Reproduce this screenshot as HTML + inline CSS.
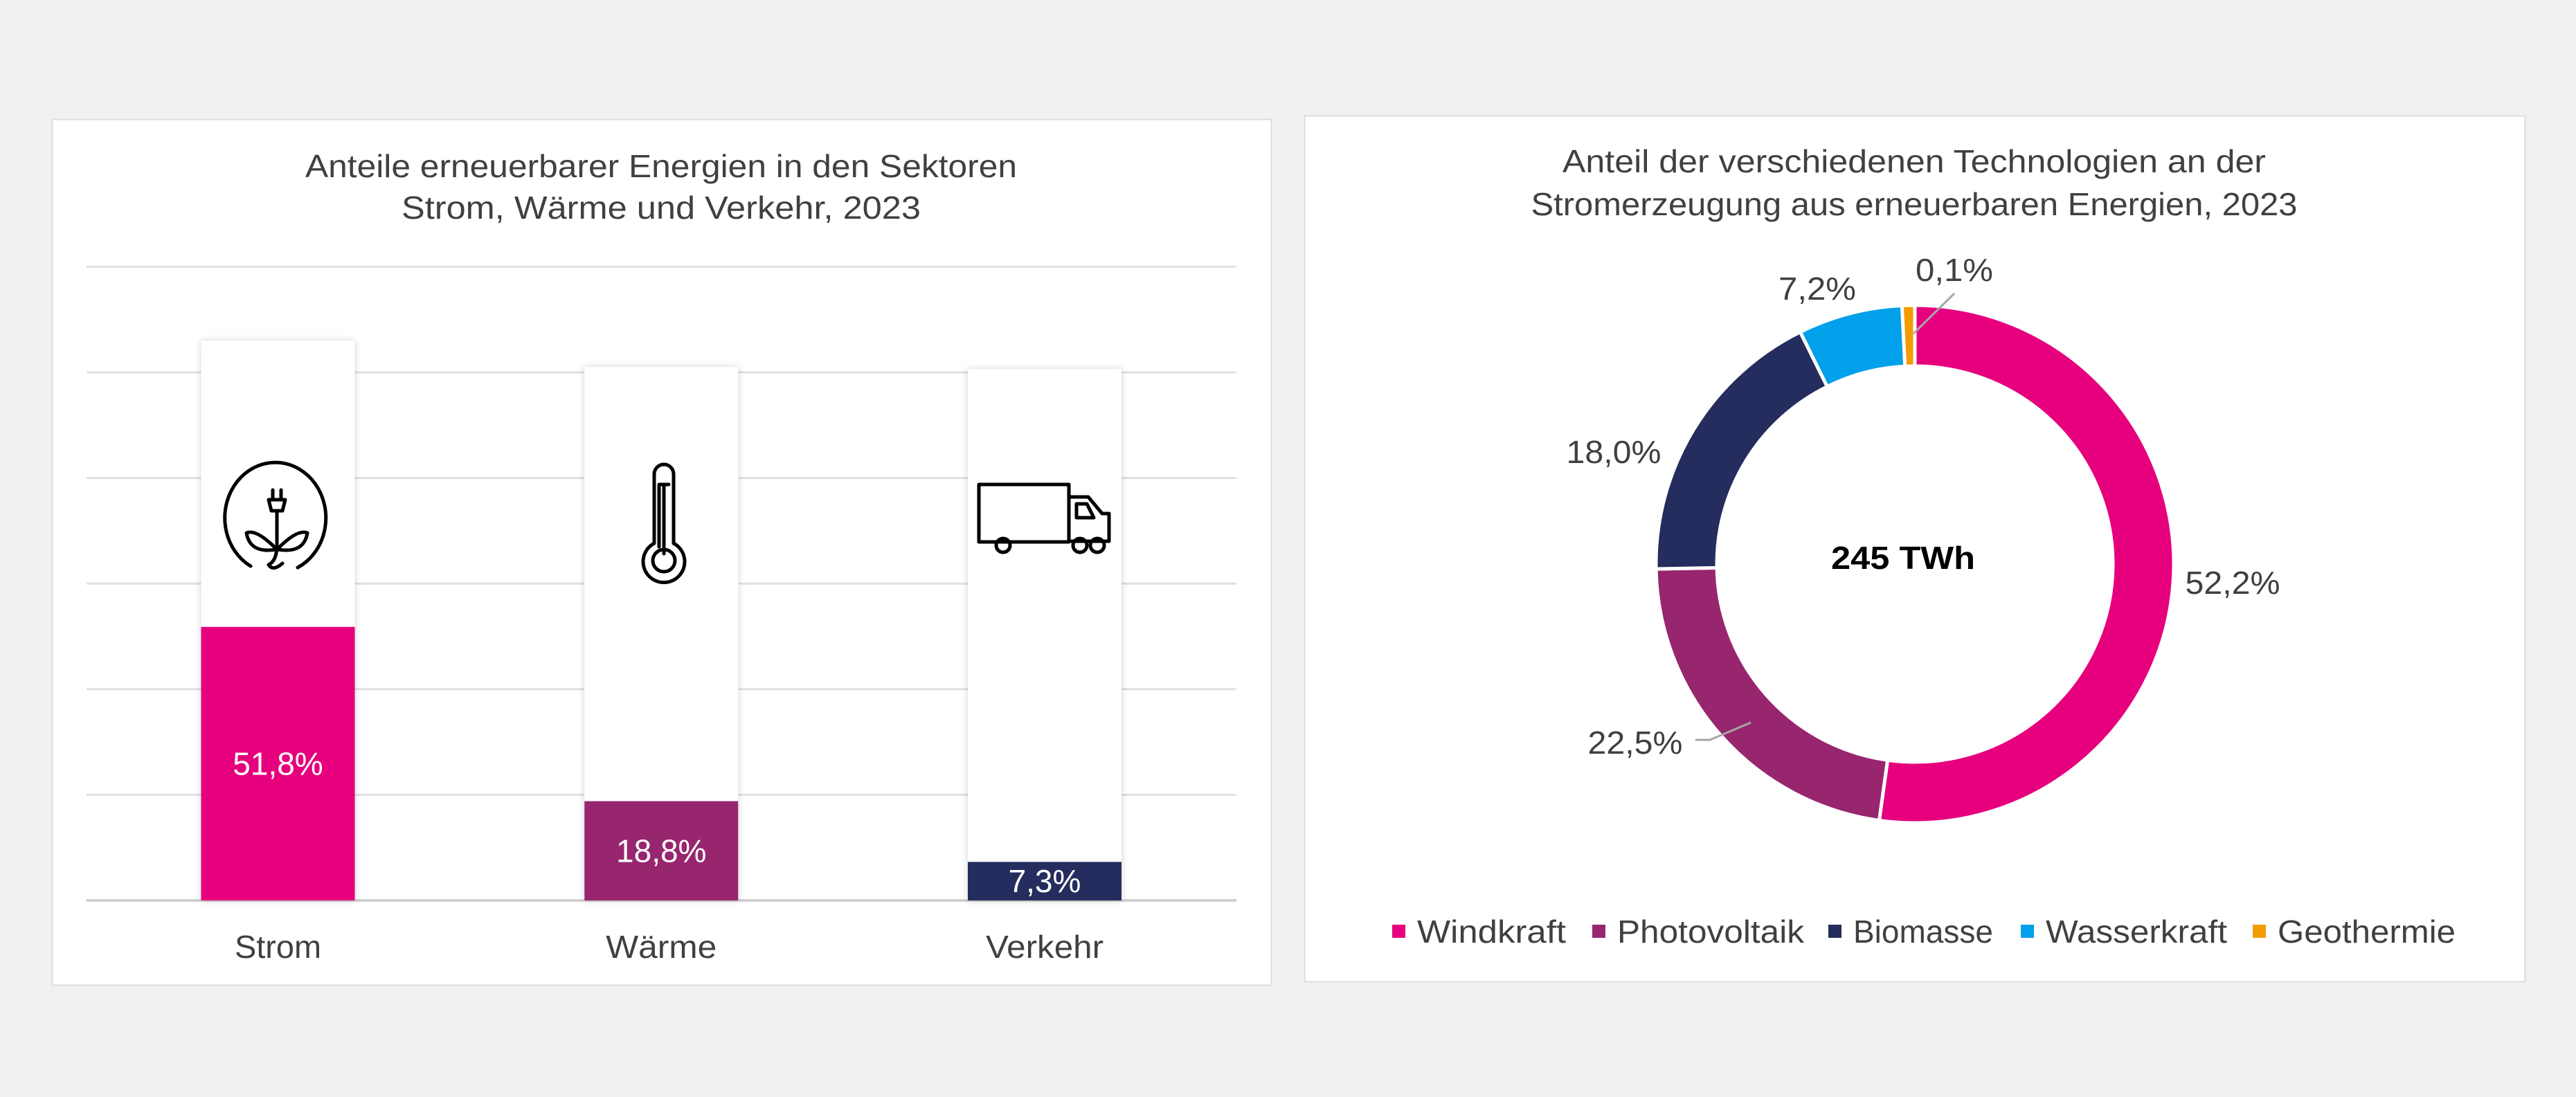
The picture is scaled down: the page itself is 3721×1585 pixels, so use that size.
<!DOCTYPE html>
<html><head><meta charset="utf-8"><style>
html,body{margin:0;padding:0;background:#f1f1f3;}
svg{display:block;font-family:"Liberation Sans",sans-serif;}
</style></head><body>
<svg id="root" width="3721" height="1585" viewBox="0 0 3721 1585" xmlns="http://www.w3.org/2000/svg">
<defs>
<filter id="sh" x="-20%" y="-10%" width="140%" height="120%"><feDropShadow dx="0" dy="0" stdDeviation="5" flood-color="#000" flood-opacity="0.18"/></filter>
</defs>
<rect x="0" y="0" width="3721" height="1585" fill="#f1f1f3"/>
<rect x="75.5" y="172.5" width="1761" height="1251" fill="#fff" stroke="#dcdcdc" stroke-width="2"/>
<rect x="1884.5" y="167.5" width="1763" height="1251" fill="#fff" stroke="#dcdcdc" stroke-width="2"/>
<g fill="#404040" font-size="46" text-anchor="middle">
<text x="955" y="256" textLength="1028" lengthAdjust="spacingAndGlyphs">Anteile erneuerbarer Energien in den Sektoren</text>
<text x="955" y="316" textLength="750" lengthAdjust="spacingAndGlyphs">Strom, Wärme und Verkehr, 2023</text>
</g>
<g fill="#404040" font-size="46" text-anchor="middle">
<text x="2765" y="249" textLength="1016" lengthAdjust="spacingAndGlyphs">Anteil der verschiedenen Technologien an der</text>
<text x="2765" y="311" textLength="1107" lengthAdjust="spacingAndGlyphs">Stromerzeugung aus erneuerbaren Energien, 2023</text>
</g>
<g id="barg"></g>
<g id="icons" fill="none" stroke="#000" stroke-width="5" stroke-linecap="round" stroke-linejoin="round">
<g>
<path d="M362,818 A73,80 0 1 1 430,820" />
<path d="M388,722 L412,722 L408,738 L392,738 Z M394,708 v14 M406,708 v14 M400,738 v50 q0,22 -12,28 q6,10 20,-2"/>
<path d="M398,792 q-28,-28 -42,-22 q5,30 42,24 z M402,792 q28,-28 42,-22 q-5,30 -42,24 z"/>
</g>
<g>
<path d="M945,785 V685 a14,14 0 0 1 28,0 V785 a30,30 0 1 1 -28,0 z"/>
<path d="M952,790 V700 h14 M959,700 V800"/>
<circle cx="959" cy="810" r="16"/>
</g>
<g>
<path d="M1414,700 h130 v83 h-130 z M1544,718 h28 l20,24 h10 v40 h-58 M1555,728 v20 h25 l-10,-20 z"/>
<circle cx="1449" cy="788" r="10"/><circle cx="1560" cy="788" r="10"/><circle cx="1585" cy="788" r="10"/>
</g>
</g>
<g id="donutg"></g>
</svg>
<script>
const categories = ["Strom", "Wärme", "Verkehr"];
const shares = [51.8, 18.8, 7.3];
const shareLabels = ["51,8%", "18,8%", "7,3%"];
const backValues = [106, 101, 100.6];
const yTicks = [0, 20, 40, 60, 80, 100, 120];

const techNames = ["Windkraft", "Photovoltaik", "Biomasse", "Wasserkraft", "Geothermie"];
const techValues = [52.2, 22.5, 18.0, 7.2, 0.1];
const techLabels = ["52,2%", "22,5%", "18,0%", "7,2%", "0,1%"];
const centerLabel = "245 TWh";

const NS = "http://www.w3.org/2000/svg";
function mk(tag, attrs, parent){const e=document.createElementNS(NS,tag);for(const k in attrs)e.setAttribute(k,attrs[k]);parent.appendChild(e);return e;}

// bar chart
const barG = document.getElementById('barg');
const y0 = 1301, pxPer = 7.63;
const yS = v => y0 - v * pxPer;
const xCenters = [401.5, 955.5, 1509];
const xS = i => xCenters[0] + i * (xCenters[2]-xCenters[0])/(categories.length-1);
const bw = 222;
const barColors = ["#e6007e", "#97266f", "#252d5e"];
const catW = [125, 160, 170];
yTicks.forEach((t) => {
  const l = mk('line', {x1:125, x2:1786, y1:yS(t), y2:yS(t), stroke: t===0?'#d0d0d0':'#e0e0e0', 'stroke-width': t===0?4:3}, barG);
  
  
});
categories.forEach((c, i) => {
  const cx = xS(i);
  const bg = mk('rect', {x:cx-bw/2, y:yS(backValues[i]), width:bw, height:backValues[i]*pxPer, fill:'#fff', filter:'url(#sh)'}, barG);
  
  
  const b = mk('rect', {x:cx-bw/2, y:yS(shares[i]), width:bw, height:shares[i]*pxPer, fill:barColors[i]}, barG);
  
  
  const ly = Math.min(yS(shares[i]/2) + 16, y0 - 12);
  const t = mk('text', {x:cx, y:ly, 'text-anchor':'middle', fill:'#fff', 'font-size':46}, barG);
  t.textContent = shareLabels[i];
  
  
  const ct = mk('text', {x:cx, y:1384, 'text-anchor':'middle', fill:'#404040', 'font-size':46, textLength:catW[i], lengthAdjust:'spacingAndGlyphs'}, barG);
  ct.textContent = c;
  
  
});
document.getElementById('root').appendChild(document.getElementById('icons'));

// donut
const dG = document.getElementById('donutg');
const cx = 2766, cy = 815, R = 374, r = 286;
const techColors = ["#e6007e", "#97266f", "#252d5e", "#00a0ea", "#f39c00"];
const total = techValues.reduce((a,b)=>a+b,0);
function pt(rad, a){return [cx + rad*Math.sin(a), cy - rad*Math.cos(a)];}
function arc(a0, a1){
  const large = (a1-a0) > Math.PI ? 1 : 0;
  const p0=pt(R,a0), p1=pt(R,a1), p2=pt(r,a1), p3=pt(r,a0);
  return `M${p0[0]},${p0[1]} A${R},${R} 0 ${large} 1 ${p1[0]},${p1[1]} L${p2[0]},${p2[1]} A${r},${r} 0 ${large} 0 ${p3[0]},${p3[1]} Z`;
}
let cum = 0;
const minA = 0.05;
techValues.forEach((v, i) => {
  let a0 = cum/total*2*Math.PI; cum += v; let a1 = cum/total*2*Math.PI;
  if (a1 - a0 < minA) a0 = a1 - minA;
  const p = mk('path', {d:arc(a0,a1), fill:techColors[i], stroke:'#fff', 'stroke-width':5}, dG);
  
  
});
const labelPos = [[3225,858],[2362,1089],[2331,669],[2625,433],[2823,406]];
techLabels.forEach((s, i) => {
  const t = mk('text', {x:labelPos[i][0], y:labelPos[i][1], 'text-anchor':'middle', fill:'#404040', 'font-size':46, textLength:s.length>4?137:112, lengthAdjust:'spacingAndGlyphs'}, dG);
  t.textContent = s;
  
  
});
const l1 = mk('polyline', {points:'2449,1069 2470,1069 2529,1044', fill:'none', stroke:'#a6a6a6', 'stroke-width':3}, dG);


const l2 = mk('line', {x1:2823, y1:424, x2:2764, y2:482, stroke:'#a6a6a6', 'stroke-width':3}, dG);


const ctr = mk('text', {x:2749, y:822, 'text-anchor':'middle', fill:'#000', 'font-size':46, 'font-weight':'bold', textLength:208, lengthAdjust:'spacingAndGlyphs'}, dG);
ctr.textContent = centerLabel;


const legSq = [2011, 2300, 2641, 2919, 3254];
const legW = [215, 270, 202, 262, 257];
techNames.forEach((n, i) => {
  const sq = mk('rect', {x:legSq[i], y:1336, width:19, height:19, fill:techColors[i]}, dG);
  
  
  const t = mk('text', {x:legSq[i]+36, y:1362, fill:'#404040', 'font-size':46, textLength:legW[i], lengthAdjust:'spacingAndGlyphs'}, dG);
  t.textContent = n;
  
  
});
</script>
</body></html>
